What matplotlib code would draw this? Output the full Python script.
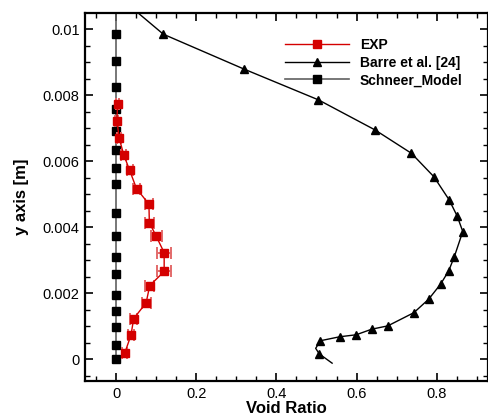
import matplotlib
matplotlib.use("Agg")
import matplotlib.pyplot as plt
from matplotlib.ticker import MultipleLocator

plt.rcParams['font.family'] = ['Liberation Sans', 'DejaVu Sans']

# experimental void ratio profile
exp_x = [0.004, 0.002, 0.008, 0.019, 0.034, 0.051, 0.082, 0.083, 0.100, 0.120,
         0.120, 0.084, 0.075, 0.044, 0.037, 0.022]
exp_y = [0.00775, 0.00723, 0.00669, 0.00620, 0.00572, 0.00517, 0.00470, 0.00414,
         0.00373, 0.00323, 0.00266, 0.00223, 0.00171, 0.00123, 0.00072, 0.00020]
exp_err = [0.004, 0.004, 0.005, 0.006, 0.007, 0.008, 0.011, 0.011, 0.014, 0.017,
           0.017, 0.011, 0.011, 0.008, 0.007, 0.006]

# Barre et al. [24] curve, markers only on the tabulated points
barre_x = [0.031, 0.118, 0.318, 0.505, 0.646, 0.737, 0.793, 0.831, 0.851, 0.865,
           0.844, 0.830, 0.810, 0.780, 0.743, 0.678, 0.638, 0.599, 0.558, 0.510,
           0.498, 0.507, 0.539]
barre_y = [0.01074, 0.00985, 0.00880, 0.00786, 0.00695, 0.00624, 0.00553, 0.00483,
           0.00434, 0.00387, 0.00311, 0.00268, 0.00228, 0.00182, 0.00141, 0.00101,
           0.00091, 0.00074, 0.00068, 0.00056, 0.00033, 0.00016, -0.00012]
barre_marks = list(range(1, 20)) + [21]

# Schneer model
schneer_y = [0.00987, 0.00904, 0.00825, 0.00759, 0.00692, 0.00634, 0.00581, 0.00532,
             0.00444, 0.00372, 0.00311, 0.00259, 0.00195, 0.00147, 0.00099, 0.00044, 0.0]
schneer_x = [0.0] * len(schneer_y)
schneer_line_y = [0.0, 0.011]
schneer_line_x = [0.0, 0.0]

fig = plt.figure(figsize=(4.89, 4.15), dpi=100)
ax = fig.add_axes([0.174, 0.082, 0.824, 0.886])

ax.plot(schneer_line_x, schneer_line_y, color='#606060', lw=1.2, zorder=2)
ax.plot(schneer_x, schneer_y, ls='none', marker='s', ms=5.3, color='black', zorder=3)
ax.errorbar(exp_x, exp_y, xerr=exp_err, fmt='none', ecolor='#e36a6a', elinewidth=1.4,
            capsize=4, capthick=1.4, zorder=4)
ax.plot(exp_x, exp_y, color='#d40000', lw=1.0, marker='s', ms=6, mec='#d40000',
        mfc='#d40000', zorder=5)
ax.plot(barre_x, barre_y, color='black', lw=1.0, marker='^', ms=5.5,
        markevery=barre_marks, zorder=3)

# legend proxies
h_exp, = ax.plot([], [], color='#d40000', lw=1.0, marker='s', ms=6)
h_barre, = ax.plot([], [], color='black', lw=1.0, marker='^', ms=6)
h_sch, = ax.plot([], [], color='#606060', lw=1.2, marker='s', ms=6, mfc='black', mec='black')
ax.legend([h_exp, h_barre, h_sch], ['EXP', 'Barre et al. [24]', 'Schneer_Model'],
          loc='upper left', bbox_to_anchor=(0.496, 0.932), frameon=False,
          prop={'weight': 'bold', 'size': 10}, handlelength=4.6, handletextpad=0.8,
          labelspacing=0.25, borderpad=0, borderaxespad=0)

ax.set_xlim(-0.0773, 0.928)
ax.set_ylim(-0.00066, 0.010485)
ax.xaxis.set_major_locator(MultipleLocator(0.2))
ax.xaxis.set_minor_locator(MultipleLocator(0.05))
ax.yaxis.set_major_locator(MultipleLocator(0.002))
ax.yaxis.set_minor_locator(MultipleLocator(0.0005))
ax.xaxis.set_major_formatter(plt.FuncFormatter(lambda v, p: '%g' % round(v, 6)))
ax.yaxis.set_major_formatter(plt.FuncFormatter(lambda v, p: '%g' % round(v, 6)))
ax.tick_params(which='both', direction='in', top=True, right=True, labelsize=10.5)
ax.tick_params(which='major', length=6, width=1.2, pad=4)
ax.tick_params(which='minor', length=3.5, width=1.0)
for s in ax.spines.values():
    s.set_linewidth(1.6)

ax.set_xlabel('Void Ratio', fontsize=12, fontweight='bold', labelpad=0)
ax.set_ylabel('y axis [m]', fontsize=12, fontweight='bold', labelpad=10)

fig.savefig('out.png', dpi=100)
